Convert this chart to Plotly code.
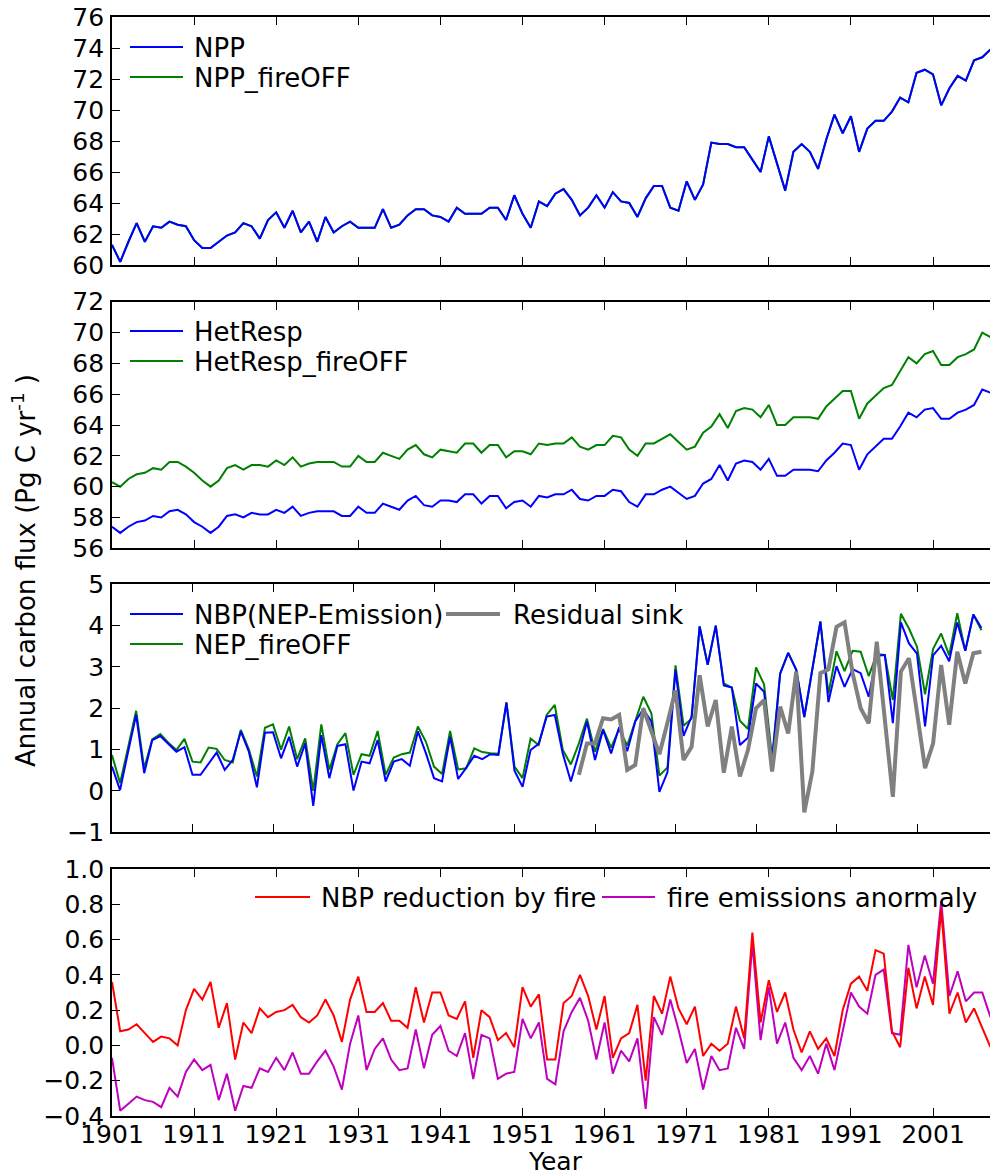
import plotly.graph_objects as go

# ---------------- data ----------------
years = list(range(1901, 2009))          # panels 1, 2, 4
years_nbp = list(range(1901, 2010))      # panel 3
years_resid = list(range(1959, 2010))    # residual sink

npp = [61.3, 60.2, 61.5, 62.7, 61.5, 62.5, 62.4, 62.8, 62.6, 62.5,
       61.6, 61.1, 61.1, 61.5, 61.9, 62.1, 62.7, 62.5, 61.7, 62.9,
       63.4, 62.4, 63.5, 62.1, 62.8, 61.5, 63.1, 62.1, 62.5, 62.8,
       62.4, 62.4, 62.4, 63.6, 62.4, 62.6, 63.2, 63.6, 63.6, 63.2,
       63.1, 62.8, 63.7, 63.3, 63.3, 63.3, 63.7, 63.7, 62.9, 64.5,
       63.3, 62.4, 64.1, 63.8, 64.6, 64.9, 64.2, 63.2, 63.7, 64.5,
       63.7, 64.7, 64.1, 64.0, 63.1, 64.3, 65.1, 65.1, 63.7, 63.5,
       65.4, 64.2, 65.2, 67.9, 67.8, 67.8, 67.6, 67.6, 66.8, 66.0,
       68.3, 66.6, 64.8, 67.3, 67.8, 67.3, 66.2, 68.1, 69.7, 68.5,
       69.6, 67.3, 68.8, 69.3, 69.3, 69.9, 70.8, 70.5, 72.4, 72.6,
       72.3, 70.3, 71.4, 72.2, 71.9, 73.2, 73.4, 73.9]
# NPP_fireOFF lies under the NPP curve in the picture
npp_fireoff = [61.3, 60.2, 61.5, 62.7, 61.5, 62.5, 62.4, 62.8, 62.6, 62.5,
               61.6, 61.1, 61.1, 61.5, 61.9, 62.1, 62.7, 62.5, 61.7, 62.9,
               63.4, 62.4, 63.5, 62.1, 62.8, 61.5, 63.1, 62.1, 62.5, 62.8,
               62.4, 62.4, 62.4, 63.6, 62.4, 62.6, 63.2, 63.6, 63.6, 63.2,
               63.1, 62.8, 63.7, 63.3, 63.3, 63.3, 63.7, 63.7, 62.9, 64.5,
               63.3, 62.4, 64.1, 63.8, 64.6, 64.9, 64.2, 63.2, 63.7, 64.5,
               63.7, 64.7, 64.1, 64.0, 63.1, 64.3, 65.1, 65.1, 63.7, 63.5,
               65.4, 64.2, 65.2, 67.9, 67.8, 67.8, 67.6, 67.6, 66.8, 66.0,
               68.3, 66.6, 64.8, 67.3, 67.8, 67.3, 66.2, 68.1, 69.7, 68.5,
               69.6, 67.3, 68.8, 69.3, 69.3, 69.9, 70.8, 70.5, 72.4, 72.6,
               72.3, 70.3, 71.4, 72.2, 71.9, 73.2, 73.4, 73.9]

hetresp = [57.4, 57.0, 57.4, 57.7, 57.8, 58.1, 58.0, 58.4, 58.5, 58.2,
           57.7, 57.4, 57.0, 57.4, 58.1, 58.2, 58.0, 58.3, 58.2, 58.2,
           58.5, 58.3, 58.7, 58.1, 58.3, 58.4, 58.4, 58.4, 58.1, 58.1,
           58.7, 58.3, 58.3, 58.9, 58.7, 58.5, 59.1, 59.4, 58.8, 58.7,
           59.1, 59.1, 59.0, 59.5, 59.5, 58.9, 59.4, 59.4, 58.6, 59.0,
           59.1, 58.7, 59.4, 59.3, 59.5, 59.5, 59.8, 59.2, 59.1, 59.4,
           59.4, 59.8, 59.7, 59.0, 58.7, 59.5, 59.5, 59.8, 60.0, 59.6,
           59.2, 59.4, 60.2, 60.5, 61.4, 60.4, 61.5, 61.7, 61.6, 61.1,
           61.8, 60.7, 60.7, 61.1, 61.1, 61.1, 61.0, 61.7, 62.2, 62.8,
           62.7, 61.1, 62.1, 62.6, 63.1, 63.1, 63.9, 64.8, 64.5, 65.0,
           65.1, 64.4, 64.4, 64.8, 65.0, 65.3, 66.3, 66.1]

hetresp_fireoff = [60.3, 60.0, 60.5, 60.8, 60.9, 61.2, 61.1, 61.6, 61.6, 61.3,
                   60.9, 60.4, 60.0, 60.4, 61.2, 61.4, 61.1, 61.4, 61.4, 61.3,
                   61.7, 61.4, 61.9, 61.3, 61.5, 61.6, 61.6, 61.6, 61.3, 61.3,
                   62.0, 61.6, 61.6, 62.2, 62.0, 61.8, 62.4, 62.7, 62.1, 61.9,
                   62.4, 62.3, 62.2, 62.8, 62.8, 62.2, 62.7, 62.7, 61.9, 62.3,
                   62.3, 62.1, 62.8, 62.7, 62.8, 62.8, 63.2, 62.6, 62.4, 62.7,
                   62.7, 63.3, 63.2, 62.4, 62.0, 62.8, 62.8, 63.1, 63.4, 62.9,
                   62.4, 62.6, 63.5, 63.9, 64.7, 63.8, 64.9, 65.1, 65.0, 64.5,
                   65.3, 64.0, 64.0, 64.5, 64.5, 64.5, 64.4, 65.2, 65.7, 66.2,
                   66.2, 64.4, 65.4, 65.9, 66.4, 66.6, 67.5, 68.4, 68.0, 68.6,
                   68.8, 67.9, 67.9, 68.4, 68.6, 68.9, 70.0, 69.7]

nbp = [0.59, 0.02, 0.95, 1.84, 0.43, 1.23, 1.33, 1.14, 0.95, 1.06,
       0.39, 0.39, 0.67, 0.93, 0.51, 0.75, 1.44, 0.95, 0.09, 1.41,
       1.42, 0.79, 1.31, 0.59, 1.15, -0.36, 1.35, 0.31, 1.09, 1.13,
       0.01, 0.71, 0.67, 1.23, 0.23, 0.71, 0.77, 0.61, 1.44, 0.91,
       0.31, 0.23, 1.31, 0.29, 0.56, 0.85, 0.77, 0.89, 0.87, 2.14,
       0.49, 0.10, 0.99, 1.14, 1.80, 1.84, 0.90, 0.23, 0.91, 1.68,
       0.75, 1.48, 0.91, 1.54, 0.96, 1.68, 1.98, 1.68, -0.02, 0.45,
       2.93, 1.33, 1.80, 3.98, 3.05, 4.00, 2.55, 2.50, 1.11, 1.29,
       2.60, 2.40, 0.70, 2.83, 3.34, 2.93, 1.79, 2.95, 4.10, 2.15,
       3.02, 2.52, 2.95, 2.85, 2.28, 3.27, 3.29, 1.64, 4.08, 3.57,
       3.32, 1.56, 3.28, 3.51, 3.14, 4.08, 3.39, 4.27, 3.94]

nep_fireoff = [0.87, 0.19, 1.05, 1.94, 0.55, 1.25, 1.38, 1.17, 0.99, 1.26,
               0.71, 0.69, 1.05, 1.02, 0.75, 0.69, 1.48, 1.01, 0.35, 1.53,
               1.61, 1.00, 1.56, 0.77, 1.27, 0.00, 1.61, 0.51, 1.13, 1.40,
               0.39, 0.89, 0.85, 1.45, 0.39, 0.81, 0.89, 0.93, 1.56, 1.19,
               0.59, 0.41, 1.45, 0.52, 0.55, 1.03, 0.94, 0.91, 0.90, 2.14,
               0.59, 0.31, 1.27, 1.11, 1.84, 2.08, 0.99, 0.64, 1.15, 1.75,
               0.95, 1.50, 1.05, 1.50, 1.10, 1.72, 2.28, 1.88, 0.37, 0.57,
               3.04, 1.58, 1.75, 3.98, 3.05, 4.00, 2.60, 2.50, 1.70, 1.50,
               2.99, 2.58, 0.80, 2.85, 3.34, 2.93, 1.79, 2.95, 4.10, 2.35,
               3.38, 2.90, 3.39, 3.37, 2.78, 3.31, 3.29, 2.20, 4.29, 3.93,
               3.49, 2.34, 3.44, 3.81, 3.28, 4.30, 3.39, 4.27, 3.89]

residual_sink = [0.39, 1.15, 1.15, 1.76, 1.73, 1.84, 0.51, 0.63, 2.00, 1.47,
                 0.89, 1.65, 2.44, 0.75, 1.07, 2.80, 1.56, 2.20, 0.44, 1.56,
                 0.35, 0.99, 2.00, 2.20, 0.47, 2.04, 1.39, 2.89, -0.52, 0.47,
                 2.85, 2.94, 3.97, 4.08, 2.85, 2.00, 1.64, 3.61, 1.75, -0.14,
                 2.89, 3.21, 1.90, 0.55, 1.15, 3.05, 1.60, 3.37, 2.60, 3.33, 3.37]

nbp_reduction = [0.36, 0.08, 0.09, 0.12, 0.07, 0.02, 0.05, 0.04, 0.00, 0.20,
                 0.32, 0.26, 0.36, 0.10, 0.24, -0.08, 0.13, 0.07, 0.21, 0.16,
                 0.19, 0.20, 0.23, 0.16, 0.13, 0.17, 0.26, 0.17, 0.02, 0.26,
                 0.39, 0.19, 0.19, 0.24, 0.14, 0.14, 0.10, 0.33, 0.13, 0.30,
                 0.30, 0.17, 0.15, 0.25, -0.07, 0.20, 0.16, 0.03, 0.07, -0.01,
                 0.33, 0.22, 0.29, -0.08, -0.08, 0.24, 0.28, 0.40, 0.28, 0.09,
                 0.28, -0.07, 0.04, 0.07, 0.23, -0.20, 0.28, 0.18, 0.39, 0.21,
                 0.12, 0.22, -0.06, 0.01, -0.03, 0.01, 0.22, 0.04, 0.64, 0.13,
                 0.37, 0.19, 0.30, 0.09, -0.04, 0.08, -0.02, 0.04, -0.06, 0.20,
                 0.35, 0.39, 0.31, 0.54, 0.52, 0.08, -0.01, 0.44, 0.21, 0.39,
                 0.23, 0.77, 0.18, 0.30, 0.13, 0.21, 0.10, -0.01]

fire_anomaly = [-0.07, -0.37, -0.33, -0.29, -0.31, -0.32, -0.35, -0.24, -0.29, -0.15,
                -0.08, -0.14, -0.11, -0.31, -0.16, -0.37, -0.23, -0.24, -0.13, -0.15,
                -0.07, -0.14, -0.04, -0.16, -0.16, -0.09, -0.03, -0.12, -0.25, 0.01,
                0.17, -0.14, -0.02, 0.04, -0.08, -0.14, -0.13, 0.09, -0.13, 0.06,
                0.11, -0.03, -0.06, 0.07, -0.19, 0.06, 0.04, -0.19, -0.16, -0.15,
                0.15, 0.04, 0.13, -0.19, -0.22, 0.08, 0.19, 0.27, 0.14, -0.08,
                0.13, -0.16, -0.03, -0.09, 0.04, -0.36, 0.16, 0.06, 0.26, 0.09,
                -0.10, -0.02, -0.25, -0.06, -0.14, -0.13, 0.10, -0.02, 0.58, 0.03,
                0.33, 0.01, 0.13, -0.07, -0.14, -0.06, -0.16, 0.01, -0.14, 0.09,
                0.30, 0.22, 0.18, 0.40, 0.43, 0.07, 0.06, 0.57, 0.33, 0.51,
                0.35, 0.82, 0.28, 0.42, 0.25, 0.30, 0.30, 0.16]

x_tickvals = [1901, 1911, 1921, 1931, 1941, 1951, 1961, 1971, 1981, 1991, 2001]
x_ticktext = ["1901", "1911", "1921", "1931", "1941", "1951", "1961", "1971", "1981", "1991", "2001"]
y1_ticks = [60, 62, 64, 66, 68, 70, 72, 74, 76]
y1_text = ["60", "62", "64", "66", "68", "70", "72", "74", "76"]
y2_ticks = [56, 58, 60, 62, 64, 66, 68, 70, 72]
y2_text = ["56", "58", "60", "62", "64", "66", "68", "70", "72"]
y3_ticks = [-1, 0, 1, 2, 3, 4, 5]
y3_text = ["\u22121", "0", "1", "2", "3", "4", "5"]
y4_ticks = [-0.4, -0.2, 0.0, 0.2, 0.4, 0.6, 0.8, 1.0]
y4_text = ["\u22120.4", "\u22120.2", "0.0", "0.2", "0.4", "0.6", "0.8", "1.0"]

legend1 = ["NPP", "NPP_fireOFF"]
legend2 = ["HetResp", "HetResp_fireOFF"]
legend3 = ["NBP(NEP-Emission)", "NEP_fireOFF", "Residual sink"]
legend4 = ["NBP reduction by fire", "fire emissions anormaly"]

# ---------------- styling / layout ----------------
BLUE = "#0000ff"
GREEN = "#008000"
GRAY = "#808080"
RED = "#ff0000"
MAGENTA = "#bf00bf"
FONT = "DejaVu Sans"

W, H = 990, 1176
L, R, T, B = 112, 0, 17, 60
PW, PH = W - L - R, H - T - B


def px(x):
    return (x - L) / PW


def py(y):
    return (H - B - y) / PH


fig = go.Figure()


def line(xs, ys, color, width, ax):
    fig.add_trace(go.Scatter(x=xs, y=ys, mode="lines",
                             line=dict(color=color, width=width),
                             xaxis="x" + ax, yaxis="y" + ax,
                             showlegend=False, hoverinfo="skip"))


line(years, npp_fireoff, GREEN, 2, "")
line(years, npp, BLUE, 2, "")
line(years, hetresp, BLUE, 2, "2")
line(years, hetresp_fireoff, GREEN, 2, "2")
line(years_nbp, nep_fireoff, GREEN, 2, "3")
line(years_nbp, nbp, BLUE, 2, "3")
line(years_resid, residual_sink, GRAY, 4, "3")
line(years, fire_anomaly, MAGENTA, 2, "4")
line(years, nbp_reduction, RED, 2, "4")

axis_common = dict(ticks="inside", ticklen=8, tickwidth=1.3, tickcolor="black",
                   showline=True, linecolor="black", linewidth=1.7,
                   showgrid=False, zeroline=False,
                   tickfont=dict(family=FONT, size=25, color="black"))

xr = [1901, 1901 + PW / 8.21]
xr3 = [1901, 1901 + PW / 8.05]


def xaxis(anchor, rng, labels):
    d = dict(axis_common)
    d.update(domain=[0, 1], anchor=anchor, range=rng, tickmode="array",
             tickvals=x_tickvals, ticktext=x_ticktext, mirror="allticks",
             showticklabels=labels, ticklabelstandoff=-5)
    return d


def yaxis(anchor, dom, rng, tv, tt):
    d = dict(axis_common)
    d.update(domain=dom, anchor=anchor, range=rng, tickmode="array",
             tickvals=tv, ticktext=tt, mirror=False, ticklabelstandoff=1)
    return d


shapes = []
annotations = []


def leg_item(x0, x1, y, color, width, text, tx):
    shapes.append(dict(type="line", xref="paper", yref="paper",
                       x0=px(x0), x1=px(x1), y0=py(y), y1=py(y),
                       line=dict(color=color, width=width)))
    annotations.append(dict(xref="paper", yref="paper", x=px(tx), y=py(y + 1),
                            xanchor="left", yanchor="middle", showarrow=False,
                            text=text, font=dict(family=FONT, size=26, color="black")))


leg_item(130, 183, 47, BLUE, 2, legend1[0], 192)
leg_item(130, 183, 77, GREEN, 2, legend1[1], 192)
leg_item(130, 183, 331, BLUE, 2, legend2[0], 192)
leg_item(130, 183, 361, GREEN, 2, legend2[1], 192)
leg_item(130, 183, 614, BLUE, 2, legend3[0], 192)
leg_item(130, 183, 644, GREEN, 2, legend3[1], 192)
leg_item(446, 500, 614, GRAY, 4, legend3[2], 511)
leg_item(255, 310, 897, RED, 2, legend4[0], 319)
leg_item(602, 655, 897, MAGENTA, 2, legend4[1], 665)

annotations.append(dict(xref="paper", yref="paper", x=px(24), y=py(571),
                        xanchor="center", yanchor="middle", showarrow=False,
                        textangle=-90,
                        text="Annual carbon flux (Pg C yr<sup>-1</sup> )",
                        font=dict(family=FONT, size=26, color="black")))
annotations.append(dict(xref="paper", yref="paper", x=px(555), y=py(1161),
                        xanchor="center", yanchor="middle", showarrow=False,
                        text="Year", font=dict(family=FONT, size=25, color="black")))

fig.update_layout(
    width=W, height=H,
    margin=dict(l=L, r=R, t=T, b=B, pad=0),
    paper_bgcolor="white", plot_bgcolor="white",
    showlegend=False,
    font=dict(family=FONT, size=25, color="black"),
    xaxis=xaxis("y", xr, False),
    xaxis2=xaxis("y2", xr, False),
    xaxis3=xaxis("y3", xr3, False),
    xaxis4=xaxis("y4", xr, True),
    yaxis=yaxis("x", [py(265), py(17)], [60, 76], y1_ticks, y1_text),
    yaxis2=yaxis("x2", [py(548.3), py(301.7)], [56, 72], y2_ticks, y2_text),
    yaxis3=yaxis("x3", [py(832.3), py(584.3)], [-1, 5], y3_ticks, y3_text),
    yaxis4=yaxis("x4", [py(1116), py(869)], [-0.4, 1.0], y4_ticks, y4_text),
    shapes=shapes,
    annotations=annotations,
)

fig.write_html("out.html")
